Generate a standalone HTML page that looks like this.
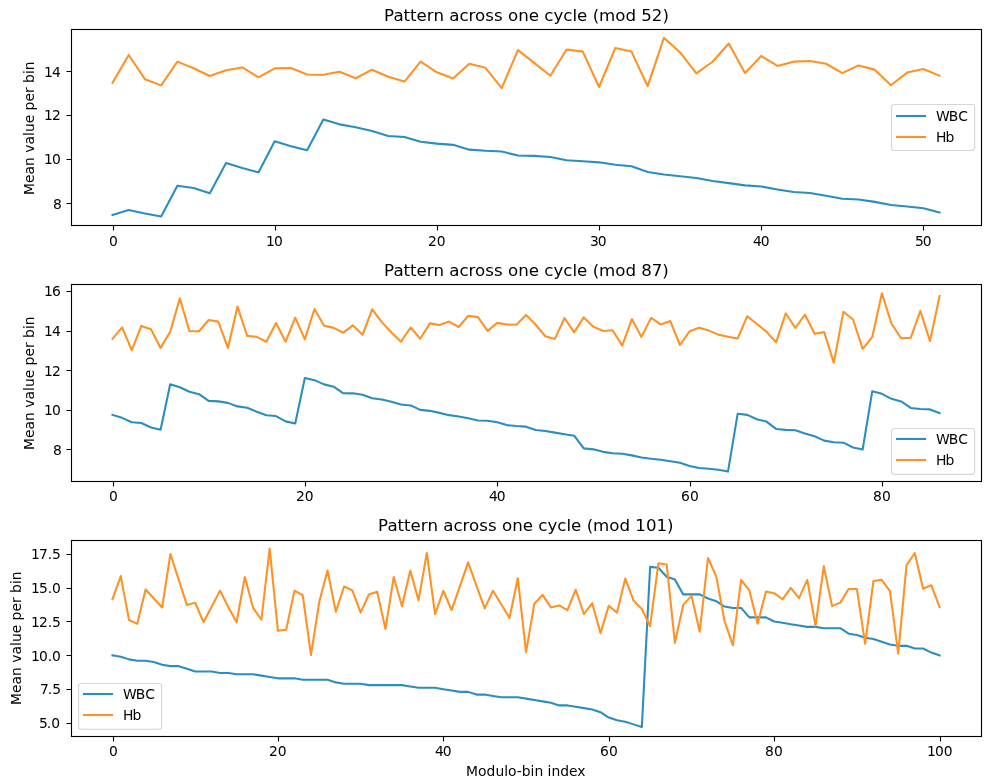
<!DOCTYPE html>
<html lang="en">
<head>
<meta charset="utf-8">
<title>Pattern across one cycle</title>
<style>
html,body{margin:0;padding:0;background:#fff;}
body{width:993px;height:784px;overflow:hidden;}
svg{display:block;}
</style>
</head>
<body>
<svg width="993" height="784" viewBox="0 0 993 784" font-family="'DejaVu Sans','Liberation Sans',sans-serif" font-size="13.889" fill="#000">
<rect width="993" height="784" fill="#fff"/>
<g id="panel1">
<polyline points="112.505,214.9 128.722,209.94 144.939,213.537 161.157,216.5 177.374,185.7 193.592,187.978 209.809,193.2 226.027,163 242.244,168.027 258.462,172.4 274.679,141.2 290.897,146.349 307.114,150.3 323.332,119.5 339.549,124.354 355.767,127.264 371.984,131.06 388.202,135.95 404.419,137.063 420.636,141.709 436.854,143.628 453.071,144.859 469.289,149.646 485.506,150.819 501.724,151.575 517.941,155.439 534.159,155.872 550.376,157.012 566.594,160.297 582.811,161.191 599.029,162.344 615.246,164.837 631.464,166.23 647.681,171.92 663.898,174.546 680.116,176.191 696.333,178.058 712.551,180.928 728.768,183.1 744.986,185.347 761.203,186.421 777.421,189.414 793.638,192.074 809.856,192.916 826.073,195.8 842.291,198.684 858.508,199.539 874.726,201.863 890.943,205.074 907.161,206.481 923.378,208.3 939.595,212.5" fill="none" stroke="#2c8dbf" stroke-width="2.083" stroke-linejoin="round" stroke-linecap="square"/>
<polyline points="112.505,82.8 128.722,55 144.939,79.158 161.157,85.4 177.374,61.6 193.592,68.256 209.809,76.056 226.027,70.175 242.244,67.408 258.462,77.3 274.679,68.369 290.897,68.01 307.114,74.552 323.332,74.84 339.549,71.725 355.767,78.281 371.984,69.7 388.202,76.789 404.419,81.6 420.636,61.6 436.854,72.256 453.071,78.5 469.289,63.8 485.506,67.814 501.724,88.2 517.941,50.1 534.159,62.9 550.376,75.7 566.594,49.5 582.811,51.6 599.029,87 615.246,48.1 631.464,51.6 647.681,86.2 663.898,37.85 680.116,52.455 696.333,73.3 712.551,61.771 728.768,43.5 744.986,73.1 761.203,56 777.421,65.947 793.638,61.661 809.856,61.041 826.073,63.762 842.291,73.1 858.508,65.416 874.726,69.629 890.943,85.2 907.161,72.585 923.378,68.953 939.595,75.75" fill="none" stroke="#ff9226" stroke-width="2.083" stroke-linejoin="round" stroke-linecap="square"/>
<path d="M113.5 225.5v5.00M275.5 225.5v5.00M437.5 225.5v5.00M599.5 225.5v5.00M761.5 225.5v5.00M923.5 225.5v5.00M71.5 203.5h-5.00M71.5 159.5h-5.00M71.5 115.5h-5.00M71.5 71.5h-5.00" stroke="#000" stroke-width="1.111" fill="none"/>
<rect x="71.5" y="29.5" width="910" height="196" fill="none" stroke="#000" stroke-width="1.111"/>
<rect x="891.5" y="104.55" width="83.1" height="45.9" rx="2.78" ry="2.78" fill="#fff" fill-opacity="0.8" stroke="#ccc" stroke-opacity="0.8" stroke-width="1.111"/>
<path d="M896 116H926" stroke="#2c8dbf" stroke-width="2.083" fill="none"/>
<path d="M896 137H926" stroke="#ff9226" stroke-width="2.083" fill="none"/>
<text x="109" y="246">0</text>
<text x="266 273.875" y="246">10</text>
<text x="428 436.75" y="246">20</text>
<text x="590 597.75" y="246">30</text>
<text x="753 760.75" y="246">40</text>
<text x="915 922.75" y="246">50</text>
<text x="53" y="209">8</text>
<text x="44 51.875" y="164">10</text>
<text x="44 51.875" y="120">12</text>
<text x="44 51.875" y="77">14</text>
<text transform="translate(34,195) rotate(-90)" x="0 12 20.5 29.125 37.875 42.25 50.5 59.125 63 71.75 80.25 84.625 93.5 102 107.75 112.125 121 124.875" y="0">Mean value per bin</text>
<text x="384 393.399 403.549 410.066 416.582 426.858 433.499 444.026 449.289 459.44 468.588 475.104 485.255 494.027 502.799 508.062 518.212 528.739 539.015 544.278 553.426 563.326 572.474 577.11 587.386 592.65 599.041 615.332 625.482 636.009 641.272 651.798 662.45" y="21" font-size="16.667">Pattern across one cycle (mod 52)</text>
<text x="936 948.75 958.125" y="121">WBC</text>
<text x="936 945.375" y="142">Hb</text>
</g>
<g id="panel2">
<polyline points="112.505,414.9 122.122,417.836 131.739,422.178 141.357,423.017 150.974,427.544 160.591,429.7 170.209,384.2 179.826,387.2 189.443,391.687 199.061,394.216 208.678,400.912 218.295,401.348 227.913,402.895 237.53,406.405 247.147,407.765 256.765,411.723 266.382,415.237 275.999,416.079 285.617,421.382 295.234,423.5 304.851,378 314.469,380.167 324.086,384.383 333.703,386.708 343.321,393.333 352.938,393.334 362.555,394.676 372.173,398.324 381.79,399.549 391.407,401.775 401.025,404.489 410.642,405.422 420.259,409.878 429.877,410.848 439.494,412.887 449.111,415.151 458.729,416.474 468.346,418.281 477.963,420.51 487.581,420.722 497.198,422.337 506.815,425.102 516.433,426.013 526.05,426.66 535.667,429.913 545.285,430.974 554.902,432.6 564.519,434.181 574.137,435.66 583.754,448.366 593.371,449.343 602.989,451.864 612.606,453.252 622.223,453.735 631.841,455.374 641.458,457.439 651.075,458.826 660.693,459.774 670.31,461.187 679.927,462.706 689.545,465.968 699.162,467.978 708.779,468.687 718.397,469.674 728.014,471.6 737.631,413.8 747.249,414.902 756.866,419.177 766.483,421.582 776.101,428.913 785.718,429.839 795.335,430.247 804.953,433.406 814.57,436.224 824.187,440.651 833.805,442.265 843.422,442.673 853.039,447.462 862.657,449.5 872.274,391.2 881.891,393.86 891.509,398.803 901.126,401.427 910.743,407.974 920.361,409.046 929.978,409.412 939.595,413.2" fill="none" stroke="#2c8dbf" stroke-width="2.083" stroke-linejoin="round" stroke-linecap="square"/>
<polyline points="112.505,338.8 122.122,327.4 131.739,350.1 141.357,325.9 150.974,329.203 160.591,347.9 170.209,331.733 179.826,298.4 189.443,331.2 199.061,331.2 208.678,320 218.295,321.6 227.913,347.9 237.53,306.6 247.147,335.9 256.765,336.857 266.382,341.7 275.999,323 285.617,341.7 295.234,317.7 304.851,339.3 314.469,309 324.086,325.7 333.703,327.872 343.321,332.7 352.938,325.4 362.555,334.8 372.173,309.3 381.79,322.113 391.407,332.508 401.025,341.7 410.642,327.5 420.259,338.8 429.877,323.4 439.494,325.062 449.111,321.6 458.729,327 468.346,315.8 477.963,317.1 487.581,330.9 497.198,322.9 506.815,324.518 516.433,324.7 526.05,315.1 535.667,324.789 545.285,336.277 554.902,338.9 564.519,318 574.137,332.4 583.754,317.4 593.371,326.643 602.989,330.96 612.606,330.3 622.223,345.6 631.841,319.1 641.458,336.9 651.075,317.9 660.693,324.4 670.31,321.1 679.927,345 689.545,331.324 699.162,327.718 708.779,330.586 718.397,334.623 728.014,336.704 737.631,338.6 747.249,316.2 756.866,324 766.483,331.68 776.101,342.4 785.718,313.3 795.335,328 804.953,314.5 814.57,333.8 824.187,332.1 833.805,362.7 843.422,311.7 853.039,319.527 862.657,348.8 872.274,336.959 881.891,293.2 891.509,323.736 901.126,338.3 910.743,337.8 920.361,310.9 929.978,341.3 939.595,296" fill="none" stroke="#ff9226" stroke-width="2.083" stroke-linejoin="round" stroke-linecap="square"/>
<path d="M113.5 481.5v5.00M305.5 481.5v5.00M497.5 481.5v5.00M690.5 481.5v5.00M882.5 481.5v5.00M71.5 449.5h-5.00M71.5 410.5h-5.00M71.5 370.5h-5.00M71.5 331.5h-5.00M71.5 291.5h-5.00" stroke="#000" stroke-width="1.111" fill="none"/>
<rect x="71.5" y="284.5" width="910" height="197" fill="none" stroke="#000" stroke-width="1.111"/>
<rect x="891.5" y="428.55" width="83.1" height="45.8" rx="2.78" ry="2.78" fill="#fff" fill-opacity="0.8" stroke="#ccc" stroke-opacity="0.8" stroke-width="1.111"/>
<path d="M896 438.95H926" stroke="#2c8dbf" stroke-width="2.083" fill="none"/>
<path d="M896 460H926" stroke="#ff9226" stroke-width="2.083" fill="none"/>
<text x="109" y="501">0</text>
<text x="296 304.75" y="501">20</text>
<text x="489 496.75" y="501">40</text>
<text x="681 689.875" y="501">60</text>
<text x="873 881.875" y="501">80</text>
<text x="53" y="455">8</text>
<text x="44 51.875" y="415">10</text>
<text x="44 51.875" y="376">12</text>
<text x="44 51.875" y="336">14</text>
<text x="44 51.875" y="296">16</text>
<text transform="translate(34,450) rotate(-90)" x="0 12 20.5 29.125 37.875 42.25 50.5 59.125 63 71.75 80.25 84.625 93.5 102 107.75 112.125 121 124.875" y="0">Mean value per bin</text>
<text x="384 393.399 403.549 410.066 416.582 426.858 433.499 444.026 449.289 459.44 468.588 475.104 485.255 494.027 502.799 508.062 518.213 528.739 539.015 544.278 553.426 563.326 572.474 577.111 587.387 592.65 599.041 615.332 625.482 636.009 641.272 651.799 662.325" y="276" font-size="16.667">Pattern across one cycle (mod 87)</text>
<text x="936 948.75 958.125" y="444">WBC</text>
<text x="936 945.375" y="465">Hb</text>
</g>
<g id="panel3">
<polyline points="112.505,655.318 120.775,656.672 129.046,659.38 137.317,660.734 145.588,660.734 153.859,662.088 162.13,664.796 170.401,666.15 178.672,666.15 186.943,668.858 195.214,671.566 203.485,671.566 211.755,671.566 220.026,672.92 228.297,672.92 236.568,674.274 244.839,674.274 253.11,674.274 261.381,675.628 269.652,676.982 277.923,678.336 286.194,678.336 294.465,678.336 302.735,679.69 311.006,679.69 319.277,679.69 327.548,679.69 335.819,682.398 344.09,683.752 352.361,683.752 360.632,683.752 368.903,685.106 377.174,685.106 385.445,685.106 393.715,685.106 401.986,685.106 410.257,686.46 418.528,687.814 426.799,687.814 435.07,687.814 443.341,689.168 451.612,690.522 459.883,691.876 468.154,691.876 476.425,694.584 484.695,694.584 492.966,695.938 501.237,697.292 509.508,697.292 517.779,697.292 526.05,698.646 534.321,700 542.592,701.354 550.863,702.708 559.134,705.416 567.405,705.416 575.675,706.77 583.946,708.124 592.217,709.478 600.488,712.186 608.759,717.602 617.03,720.31 625.301,721.664 633.572,724.372 641.843,727.08 650.114,566.85 658.385,567.7 666.655,576.786 674.926,579.494 683.197,594.388 691.468,594.388 699.739,594.388 708.01,598.45 716.281,601.158 724.552,606.574 732.823,607.928 741.094,607.928 749.365,617.406 757.635,617.406 765.906,617.406 774.177,621.468 782.448,622.822 790.719,624.176 798.99,625.53 807.261,626.884 815.532,626.884 823.803,628.238 832.074,628.238 840.345,628.238 848.615,633.654 856.886,635.008 865.157,637.716 873.428,639.07 881.699,641.778 889.97,644.486 898.241,645.84 906.512,645.84 914.783,648.548 923.054,648.548 931.325,652.61 939.595,655.318" fill="none" stroke="#2c8dbf" stroke-width="2.083" stroke-linejoin="round" stroke-linecap="square"/>
<polyline points="112.505,599.066 120.775,576.074 129.046,620.15 137.317,623.764 145.588,589.428 153.859,598.565 162.13,607.5 170.401,553.986 178.672,579.589 186.943,605.09 195.214,602.781 203.485,622.158 211.755,606.597 220.026,590.632 228.297,607.002 236.568,622.158 244.839,576.978 253.11,607.845 261.381,619.748 269.652,548.6 277.923,630.692 286.194,629.688 294.465,590.632 302.735,595.251 311.006,654.989 319.277,601.763 327.548,570.452 335.819,611.716 344.09,586.516 352.361,590.332 360.632,612.62 368.903,594.448 377.174,591.837 385.445,629.086 393.715,576.978 401.986,606.194 410.257,570.452 418.528,600.371 426.799,552.982 435.07,614.226 443.341,590.733 451.612,610.11 459.883,586.416 468.154,562.42 476.425,585.613 484.695,608.403 492.966,590.733 501.237,604.185 509.508,618.042 517.779,578.183 526.05,652.178 534.321,603.811 542.592,594.849 550.863,607.399 559.134,605.401 567.405,610.11 575.675,589.729 583.946,614.226 592.217,603.182 600.488,633.102 608.759,605.692 617.03,612.62 625.301,578.584 633.572,600.726 641.843,609.065 650.114,626.174 658.385,563.324 666.655,564.528 674.926,642.84 683.197,604.922 691.468,595.853 699.739,631.696 708.01,558.002 716.281,576.647 724.552,621.173 732.823,645.25 741.094,579.99 749.365,590.376 757.635,623.764 765.906,591.636 774.177,593.187 782.448,599.267 790.719,587.821 798.99,598.162 807.261,579.89 815.532,625.873 823.803,566.135 832.074,606.094 840.345,602.66 848.615,589.026 856.886,589.026 865.157,643.945 873.428,580.994 881.699,579.89 889.97,591.17 898.241,653.684 906.512,565.368 914.783,552.982 923.054,588.825 931.325,585.311 939.595,607.098" fill="none" stroke="#ff9226" stroke-width="2.083" stroke-linejoin="round" stroke-linecap="square"/>
<path d="M113.5 736.5v5.00M278.5 736.5v5.00M443.5 736.5v5.00M609.5 736.5v5.00M774.5 736.5v5.00M940.5 736.5v5.00M71.5 723.5h-5.00M71.5 689.5h-5.00M71.5 655.5h-5.00M71.5 621.5h-5.00M71.5 588.5h-5.00M71.5 554.5h-5.00" stroke="#000" stroke-width="1.111" fill="none"/>
<rect x="71.5" y="540.5" width="910" height="196" fill="none" stroke="#000" stroke-width="1.111"/>
<rect x="78.55" y="683.45" width="83.05" height="45.85" rx="2.78" ry="2.78" fill="#fff" fill-opacity="0.8" stroke="#ccc" stroke-opacity="0.8" stroke-width="1.111"/>
<path d="M83 694H113" stroke="#2c8dbf" stroke-width="2.083" fill="none"/>
<path d="M83 715H113" stroke="#ff9226" stroke-width="2.083" fill="none"/>
<text x="109" y="756">0</text>
<text x="269 277.75" y="756">20</text>
<text x="435 442.75" y="756">40</text>
<text x="600 608.875" y="756">60</text>
<text x="765 773.875" y="756">80</text>
<text x="927 934.875 943.625" y="756">100</text>
<text x="466 478 486.5 495.375 504.125 508 516.75 521.625 530.5 534.375 543.125 547.5 551.375 560.125 569 577.25" y="776">Modulo-bin index</text>
<text x="39 46.75 51.125" y="728">5.0</text>
<text x="40 47.75 52.125" y="694">7.5</text>
<text x="31 38.875 47.625 52" y="661">10.0</text>
<text x="31 38.875 47.625 52" y="627">12.5</text>
<text x="31 38.875 47.625 52" y="593">15.0</text>
<text x="31 38.875 47.625 52" y="559">17.5</text>
<text transform="translate(21,705) rotate(-90)" x="0 12 20.5 29.125 37.875 42.25 50.5 59.125 63 71.75 80.25 84.625 93.5 102 107.75 112.125 121 124.875" y="0">Mean value per bin</text>
<text x="378 387.398 397.547 404.063 410.579 420.854 427.495 438.02 443.283 453.433 462.58 469.096 479.245 488.016 496.788 502.05 512.2 522.725 533 538.263 547.41 557.309 566.456 571.093 581.367 586.63 593.021 609.31 619.46 629.985 635.248 645.899 656.424 667.075" y="531" font-size="16.667">Pattern across one cycle (mod 101)</text>
<text x="123 135.75 145.125" y="699">WBC</text>
<text x="123 132.375" y="720">Hb</text>
</g>
</svg>
</body>
</html>
